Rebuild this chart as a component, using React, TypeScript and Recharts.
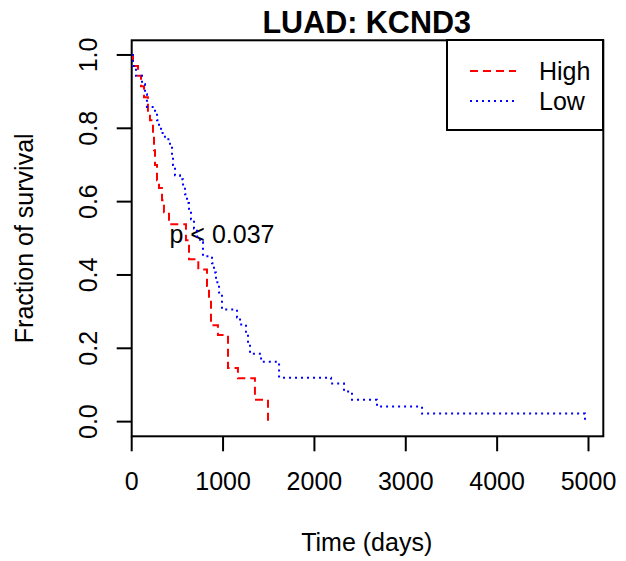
import React from "react";
import { LineChart, Line, XAxis, YAxis } from "recharts";

// Kaplan-Meier steps
const highTime = [0, 14, 69, 102, 135, 178, 200, 233, 244, 255, 277, 299, 332, 353, 408, 594, 627, 729, 824, 846, 868, 944, 1054, 1163, 1349, 1492];
const highSurv = [1, 0.97, 0.943, 0.915, 0.885, 0.844, 0.822, 0.78, 0.74, 0.7, 0.658, 0.637, 0.604, 0.571, 0.538, 0.495, 0.443, 0.415, 0.37, 0.33, 0.263, 0.236, 0.146, 0.118, 0.06, 0];

const lowTime = [0, 14, 47, 113, 146, 167, 255, 277, 299, 321, 364, 419, 441, 452, 474, 529, 562, 583, 605, 627, 649, 682, 715, 748, 780, 879, 901, 923, 956, 988, 1153, 1186, 1251, 1273, 1295, 1416, 1613, 2182, 2324, 2411, 2685, 3178, 4962];
const lowSurv = [1, 0.97, 0.943, 0.92, 0.893, 0.858, 0.842, 0.822, 0.803, 0.787, 0.77, 0.751, 0.727, 0.7, 0.672, 0.661, 0.642, 0.62, 0.596, 0.574, 0.552, 0.527, 0.505, 0.489, 0.451, 0.432, 0.407, 0.38, 0.352, 0.306, 0.284, 0.265, 0.245, 0.215, 0.185, 0.163, 0.12, 0.104, 0.082, 0.06, 0.041, 0.022, 0];

const xTicks = [0, 1000, 2000, 3000, 4000, 5000];
const yTicks = [0, 0.2, 0.4, 0.6, 0.8, 1.0];

const X_MAX = 5162;
const Y_MIN = -0.04;
const Y_MAX = 1.04;

const FONT = "'Liberation Sans', Arial, Helvetica, sans-serif";
const FS = 25;

// plot frame (R box())
const PLOT = { left: 131.7, top: 40.3, width: 471.6, height: 396 };

const high = highTime.map((t, i) => ({ t, s: highSurv[i] }));
const low = lowTime.map((t, i) => ({ t, s: lowSurv[i] }));

const XTick = (props: any) => {
  const { x, payload } = props;
  return (
    <text x={x} y={490} textAnchor="middle" fontSize={FS} fontFamily={FONT} fill="#000">
      {payload.value}
    </text>
  );
};

const YTick = (props: any) => {
  const { y, payload } = props;
  return (
    <text
      x={97}
      y={y}
      transform={`rotate(-90, 97, ${y})`}
      textAnchor="middle"
      fontSize={FS}
      fontFamily={FONT}
      fill="#000"
    >
      {Number(payload.value).toFixed(1)}
    </text>
  );
};

const LegendBox = () => (
  <div
    style={{
      position: "absolute",
      left: 446.3,
      top: 39.3,
      width: 158,
      height: 92,
      boxSizing: "border-box",
      border: "2px solid #000",
      background: "#fff",
    }}
  >
    <svg width={154} height={88} style={{ display: "block" }}>
      <line x1={22} x2={68} y1={30} y2={30} stroke="#ff0000" strokeWidth={2} strokeDasharray="8 5" />
      <line x1={22} x2={68} y1={60} y2={60} stroke="#0000ff" strokeWidth={2} strokeDasharray="2 4" />
      <text x={91} y={39} fontSize={FS} fontFamily={FONT} fill="#000">High</text>
      <text x={91} y={69} fontSize={FS} fontFamily={FONT} fill="#000">Low</text>
    </svg>
  </div>
);

export default function App() {
  return (
    <div style={{ position: "absolute", left: 0, top: 0, width: 626, height: 561, background: "#fff" }}>
      <LineChart
        width={626}
        height={561}
        margin={{ top: 40.3, right: 22.7, bottom: 64.7, left: 0 }}
      >
        <XAxis
          dataKey="t"
          type="number"
          domain={[0, X_MAX]}
          ticks={xTicks}
          allowDataOverflow
          axisLine={false}
          tickLine={{ stroke: "#000", strokeWidth: 2 }}
          tickSize={15}
          height={60}
          tick={<XTick />}
        />
        <YAxis
          type="number"
          domain={[Y_MIN, Y_MAX]}
          ticks={yTicks}
          allowDataOverflow
          axisLine={false}
          tickLine={{ stroke: "#000", strokeWidth: 2 }}
          tickSize={15}
          width={131.7}
          tick={<YTick />}
        />
        <rect
          x={PLOT.left}
          y={PLOT.top}
          width={PLOT.width}
          height={PLOT.height}
          fill="none"
          stroke="#000"
          strokeWidth={2}
        />
        <Line
          data={high}
          dataKey="s"
          type="stepAfter"
          stroke="#ff0000"
          strokeWidth={2}
          strokeDasharray="8 5"
          dot={false}
          isAnimationActive={false}
        />
        <Line
          data={low}
          dataKey="s"
          type="stepAfter"
          stroke="#0000ff"
          strokeWidth={2}
          strokeDasharray="2 4"
          dot={false}
          isAnimationActive={false}
        />
        <text x={366.7} y={33.3} textAnchor="middle" fontSize={30.5} fontWeight="bold" fontFamily={FONT} fill="#000">
          LUAD: KCND3
        </text>
        <text x={222} y={243.3} textAnchor="middle" fontSize={FS} fontFamily={FONT} fill="#000">
          p &lt; 0.037
        </text>
        <text x={366.7} y={551} textAnchor="middle" fontSize={FS} fontFamily={FONT} fill="#000">
          Time (days)
        </text>
        <text
          x={33}
          y={238.3}
          transform="rotate(-90, 33, 238.3)"
          textAnchor="middle"
          fontSize={FS}
          fontFamily={FONT}
          fill="#000"
        >
          Fraction of survival
        </text>
      </LineChart>
      <LegendBox />
    </div>
  );
}
